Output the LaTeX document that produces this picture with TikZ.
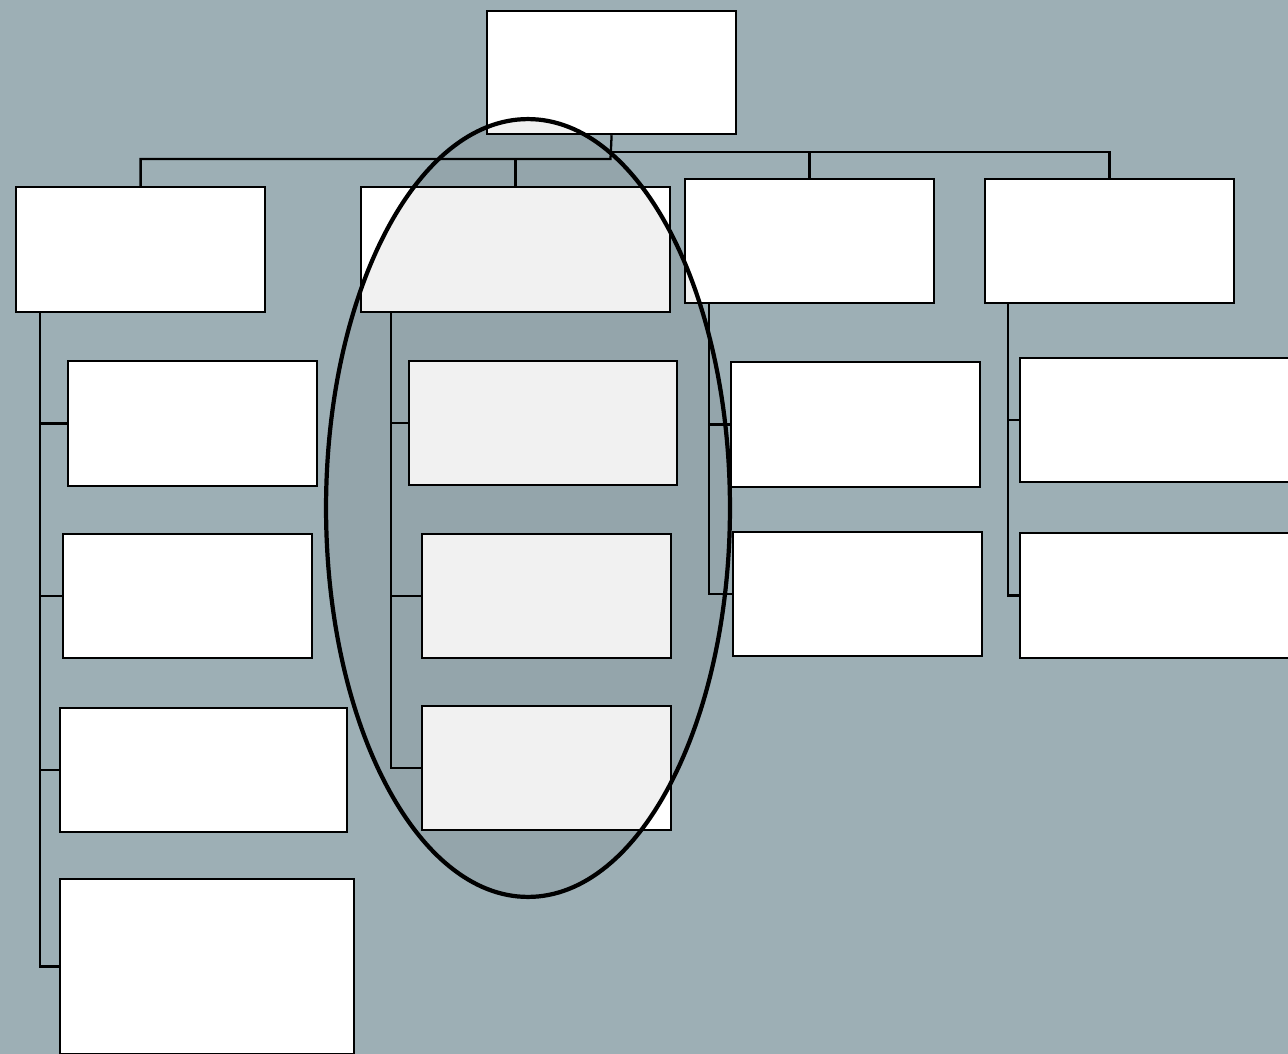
\documentclass[tikz,border=0pt]{standalone}
\usepackage{tikz}
\usetikzlibrary{positioning}

\definecolor{slate}{RGB}{157,175,181}

\begin{document}
\begin{tikzpicture}[x=0.02cm, y=-0.02cm,
		box/.style={draw, fill=white, line width=1.3pt, inner sep=0pt, anchor=north west},
		link/.style={line width=1.3pt}]
				% background, 1 unit = 1 pixel
				\clip (0,0) rectangle (1288,1054);
				\fill[slate] (0,0) rectangle (1288,1054);
				
				% top box and first row
				\node[box, minimum width=4.98cm, minimum height=2.46cm] (T) at (486,10) {};
				\node[box, minimum width=4.98cm, minimum height=2.5cm] (A) at (15,186) {};
				\node[box, minimum width=6.18cm, minimum height=2.5cm] (B) at (360,186) {};
				\node[box, minimum width=4.98cm, minimum height=2.48cm] (C) at (684,178) {};
				\node[box, minimum width=4.98cm, minimum height=2.48cm] (D) at (984,178) {};
				
				% children
				\node[box, minimum width=4.98cm, minimum height=2.5cm] (A1) at (67,360) {};
				\node[box, minimum width=4.98cm, minimum height=2.48cm] (A2) at (62,533) {};
				\node[box, minimum width=5.74cm, minimum height=2.48cm] (A3) at (59,707) {};
				\node[box, minimum width=5.88cm, minimum height=3.5cm] (A4) at (59,878) {};
				\node[box, minimum width=5.36cm, minimum height=2.48cm] (B1) at (408,360) {};
				\node[box, minimum width=4.98cm, minimum height=2.48cm] (B2) at (421,533) {};
				\node[box, minimum width=4.98cm, minimum height=2.48cm] (B3) at (421,705) {};
				\node[box, minimum width=4.98cm, minimum height=2.5cm] (C1) at (730,361) {};
				\node[box, minimum width=4.98cm, minimum height=2.48cm] (C2) at (732,531) {};
				\node[box, minimum width=5.8cm, minimum height=2.48cm] (D1) at (1019,357) {};
				\node[box, minimum width=5.8cm, minimum height=2.5cm] (D2) at (1019,532) {};
				
				% connectors from the top box
				\coordinate (busL) at (610.5,159);
				\coordinate (busR) at (610.5,152);
				\draw[link] (T.south) -- (busL) -| (A.north);
				\draw[link] (busL) -| (B.north);
				\draw[link] (busR) -| (C.north);
				\draw[link] (busR) -| (D.north);
				
				% spines of each column
				\coordinate (Asp) at (40,311);
				\coordinate (Bsp) at (391,311);
				\coordinate (Csp) at (709,302);
				\coordinate (Dsp) at (1008,302);
				\foreach \c in {A1,A2,A3,A4} \draw[link] (Asp) |- (\c.west);
				\foreach \c in {B1,B2,B3} \draw[link] (Bsp) |- (\c.west);
				\foreach \c in {C1,C2} \draw[link] (Csp) |- (\c.west);
				\foreach \c in {D1,D2} \draw[link] (Dsp) |- (\c.west);
				
				% shaded ellipse over the second column
				\draw[line width=2.4pt, fill=black, fill opacity=0.055] (528,508) ellipse [x radius=4.04cm, y radius=7.78cm];
			\end{tikzpicture}
\end{document}
